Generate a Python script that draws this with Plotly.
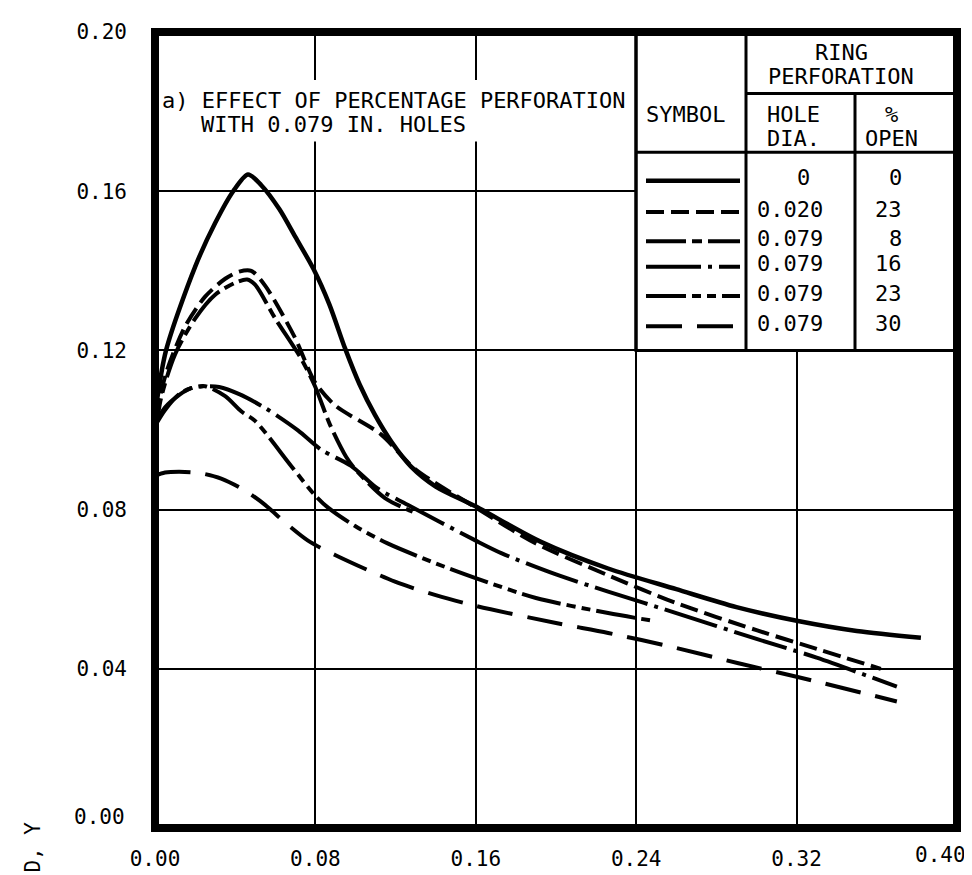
import plotly.graph_objects as go

# ---------------- data ----------------
x_ticks = [0.00, 0.08, 0.16, 0.24, 0.32, 0.40]
y_ticks = [0.00, 0.04, 0.08, 0.12, 0.16, 0.20]

# 0 in. / 0 % (solid)
a_x = [0, 0.0055, 0.02, 0.030, 0.039, 0.0464, 0.053, 0.062, 0.070, 0.079, 0.087, 0.0948, 0.102, 0.1097, 0.118, 0.1277, 0.140, 0.1596, 0.1925, 0.226, 0.26, 0.29, 0.3207, 0.35, 0.382]
a_y = [0.104, 0.12, 0.141, 0.152, 0.160, 0.1642, 0.1615, 0.1555, 0.1485, 0.1405, 0.1315, 0.1205, 0.1115, 0.1038, 0.0970, 0.0908, 0.0858, 0.0809, 0.0719, 0.0652, 0.060, 0.0555, 0.052, 0.0495, 0.0478]
# 0.020 in. / 23 %
b_x = [0, 0.006, 0.015, 0.025, 0.035, 0.042, 0.048, 0.055, 0.0698, 0.0798, 0.0898, 0.1127, 0.1297, 0.16, 0.19, 0.226, 0.26, 0.30, 0.33, 0.362]
b_y = [0.103, 0.115, 0.126, 0.1335, 0.138, 0.1398, 0.140, 0.1362, 0.1232, 0.112, 0.1062, 0.0989, 0.0902, 0.0805, 0.0715, 0.0635, 0.0565, 0.0497, 0.0450, 0.040]
# 0.079 in. / 8 %
c_x = [0, 0.003, 0.010, 0.020, 0.030, 0.040, 0.046, 0.0499, 0.060, 0.0728, 0.0798, 0.0873, 0.0953, 0.0998, 0.1147, 0.1285]
c_y = [0.098, 0.108, 0.119, 0.128, 0.134, 0.137, 0.1378, 0.1365, 0.128, 0.118, 0.111, 0.1013, 0.0933, 0.0902, 0.0829, 0.0795]
# 0.079 in. / 16 %
d_x = [0, 0.004, 0.010, 0.018, 0.025, 0.032, 0.042, 0.055, 0.0713, 0.083, 0.0978, 0.111, 0.126, 0.16, 0.173, 0.20, 0.226, 0.26, 0.30, 0.33, 0.37]
d_y = [0.101, 0.105, 0.108, 0.1105, 0.111, 0.1108, 0.109, 0.1055, 0.0999, 0.095, 0.091, 0.0853, 0.0812, 0.0722, 0.069, 0.0637, 0.0594, 0.054, 0.0475, 0.0428, 0.0355]
# 0.079 in. / 23 %
e_x = [0, 0.005, 0.012, 0.018, 0.025, 0.035, 0.043, 0.0499, 0.068, 0.0798, 0.0863, 0.100, 0.116, 0.140, 0.161, 0.19, 0.226, 0.249]
e_y = [0.101, 0.105, 0.109, 0.1105, 0.111, 0.1085, 0.1047, 0.1023, 0.0909, 0.0836, 0.0805, 0.0758, 0.0715, 0.0665, 0.0626, 0.0578, 0.0540, 0.0520]
# 0.079 in. / 30 %
f_x = [0, 0.005, 0.012, 0.022, 0.033, 0.0449, 0.0549, 0.065, 0.0763, 0.0898, 0.1197, 0.14, 0.16, 0.20, 0.226, 0.257, 0.291, 0.32, 0.37]
f_y = [0.0885, 0.0893, 0.0895, 0.0892, 0.0878, 0.0848, 0.0812, 0.0767, 0.0722, 0.0686, 0.0619, 0.0585, 0.0558, 0.0515, 0.0490, 0.0456, 0.0414, 0.0380, 0.0318]

hole_dia = ["0", "0.020", "0.079", "0.079", "0.079", "0.079"]
pct_open = ["0", "23", "8", "16", "23", "30"]

series_x = [a_x, b_x, c_x, d_x, e_x, f_x]
series_y = [a_y, b_y, c_y, d_y, e_y, f_y]

# ---------------- styles ----------------
dashes = ["solid",
          "18px,7px",
          "40px,6px,10px,6px",
          "55px,7px,4px,7px",
          "40px,6px,9px,6px,9px,6px",
          "36px,15px"]
widths = [4.5, 4, 4, 4, 4, 4]
FONT = "DejaVu Sans Mono"
FS = 22
FT = 21

W, H = 972, 875
L, R, T, B = 147, 949, 15, 829
XR = (0.0, 0.40)
YR = (0.0, 0.20)


def dx(px):
    return XR[0] + (px - L) / (R - L) * (XR[1] - XR[0])


def dy(py):
    return YR[0] + (B - py) / (B - T) * (YR[1] - YR[0])


def px_paper(px):
    return (px - L) / (R - L)


def py_paper(py):
    return (B - py) / (B - T)


fig = go.Figure()

for i in range(6):
    fig.add_trace(go.Scatter(
        x=series_x[i], y=series_y[i], mode="lines",
        line=dict(color="black", width=widths[i], dash=dashes[i], shape="spline", smoothing=0.8),
        showlegend=False, hoverinfo="skip"))

# ---------------- table (legend) ----------------
tx0, tx1, tx2, tx3 = dx(628), dx(738), dx(847), XR[1]
ty_top, ty_ring, ty_head, ty_bot = YR[1], dy(78), dy(138), 0.12

shapes = []
# white background of the caption block
shapes.append(dict(type="rect", xref="x", yref="y", x0=dx(150), x1=dx(622), y0=dy(127), y1=dy(64),
                   fillcolor="white", line=dict(width=0), layer="between"))
# table white background
shapes.append(dict(type="rect", xref="x", yref="y", x0=tx0, x1=tx3, y0=ty_bot, y1=ty_top,
                   fillcolor="white", line=dict(color="black", width=3), layer="between"))
lw = 3
shapes += [
    dict(type="line", xref="x", yref="y", x0=tx1, x1=tx1, y0=ty_bot, y1=ty_top, line=dict(color="black", width=lw)),
    dict(type="line", xref="x", yref="y", x0=tx2, x1=tx2, y0=ty_bot, y1=ty_ring, line=dict(color="black", width=lw)),
    dict(type="line", xref="x", yref="y", x0=tx1, x1=tx3, y0=ty_ring, y1=ty_ring, line=dict(color="black", width=lw)),
    dict(type="line", xref="x", yref="y", x0=tx0, x1=tx3, y0=ty_head, y1=ty_head, line=dict(color="black", width=lw)),
    dict(type="line", xref="x", yref="y", x0=tx0, x1=tx0, y0=ty_bot, y1=ty_top, line=dict(color="black", width=lw)),
]
# heavy frame
shapes.append(dict(type="rect", xref="paper", yref="paper", x0=0, x1=1, y0=0, y1=1,
                   line=dict(color="black", width=8), layer="above"))
fig.update_layout(shapes=shapes)

ann = []


def text(x, y, s, xanchor="center", size=FS, xref="x", yref="y"):
    ann.append(dict(x=x, y=y, xref=xref, yref=yref, text=s, showarrow=False,
                    xanchor=xanchor, yanchor="middle", font=dict(family=FONT, size=size, color="black")))


text(dx(833), dy(36), "RING")
text(dx(833), dy(61), "PERFORATION")
text(dx(677), dy(99), "SYMBOL")
text(dx(785), dy(99), "HOLE")
text(dx(785), dy(124), "DIA.")
text(dx(883), dy(99), "%")
text(dx(883), dy(124), "OPEN")

row_py = [164, 196, 226, 252, 282, 313]
for i in range(6):
    ry = dy(row_py[i])
    if hole_dia[i] == "0":
        text(dx(795), ry, hole_dia[i])
    else:
        text(dx(747), ry, hole_dia[i], xanchor="left")
    text(dx(896), ry, pct_open[i], xanchor="right")
    sy = dy(row_py[i] + 3)
    fig.add_trace(go.Scatter(
        x=[dx(638), dx(732)], y=[sy, sy], mode="lines",
        line=dict(color="black", width=widths[i], dash=dashes[i]),
        showlegend=False, hoverinfo="skip"))

text(dx(152), dy(85), "a) EFFECT OF PERCENTAGE PERFORATION", xanchor="left")
text(dx(191), dy(110), "WITH 0.079 IN. HOLES", xanchor="left")

# end tick labels, nudged inward as in the reference
text(px_paper(932), py_paper(857), f"{x_ticks[-1]:.2f}", size=FT, xref="paper", yref="paper")
text(px_paper(119), py_paper(818), f"{y_ticks[0]:.2f}", xanchor="right", size=FT, xref="paper", yref="paper")

# y-axis title (only its end is visible)
ann.append(dict(x=px_paper(25), y=py_paper(849), xref="paper", yref="paper",
                text="D, Y", textangle=-90, showarrow=False, xanchor="center", yanchor="middle",
                font=dict(family=FONT, size=FT, color="black")))

fig.update_layout(annotations=ann)

fig.update_layout(
    width=W, height=H,
    margin=dict(l=L, r=W - R, t=T, b=H - B),
    paper_bgcolor="white", plot_bgcolor="white",
    font=dict(family=FONT, size=FT, color="black"),
    xaxis=dict(range=list(XR), tickvals=x_ticks[:-1], ticktext=[f"{v:.2f}" for v in x_ticks[:-1]],
               showgrid=True, gridcolor="black", gridwidth=1.5, zeroline=False,
               showline=False, ticks="", ticklabelstandoff=16),
    yaxis=dict(range=list(YR), tickvals=y_ticks, ticktext=[""] + [f"{v:.2f}" for v in y_ticks[1:]],
               showgrid=True, gridcolor="black", gridwidth=1.5, zeroline=False,
               showline=False, ticks="", ticklabelstandoff=27),
)

fig.write_html("out.html")
